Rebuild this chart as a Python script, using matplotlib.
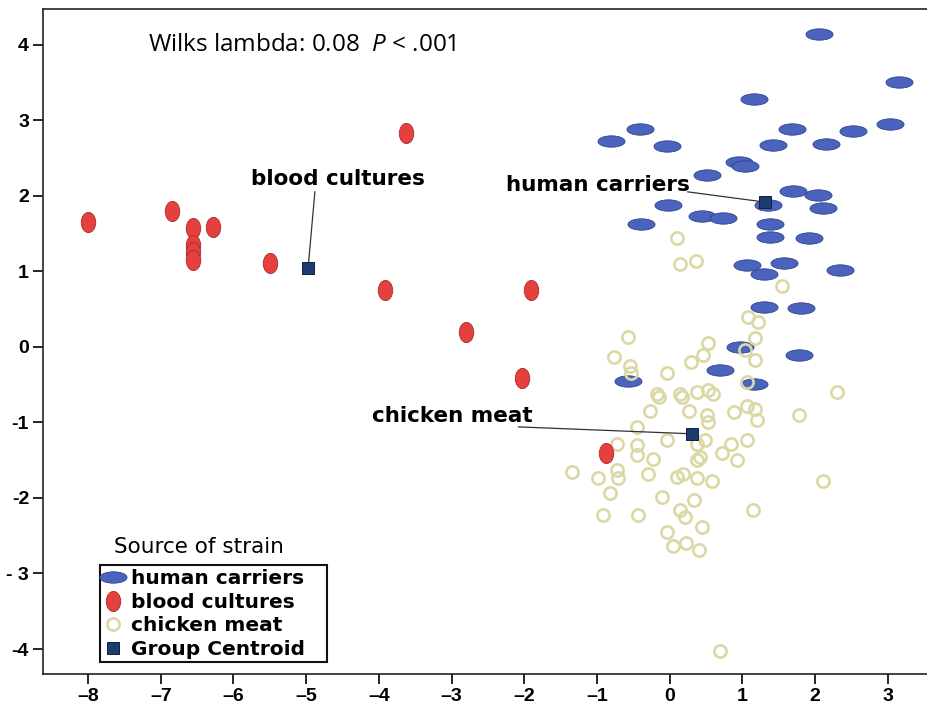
import matplotlib
matplotlib.use("Agg")
import matplotlib.pyplot as plt
from matplotlib.path import Path
from matplotlib.transforms import Affine2D
from matplotlib.lines import Line2D
from matplotlib.patches import Rectangle

# ---------------------------------------------------------
# Data
# ---------------------------------------------------------

hc_x = [2.05, 3.16, 1.16, -0.41, -0.81, -0.04, 1.68, 2.52, 3.03, 1.42, 2.15, 0.96,
        1.04, 0.51, 1.70, 2.04, -0.02, 1.35, 2.11, -0.39, 0.45, 0.73, 1.38, 1.38,
        1.91, 1.07, 1.30, 1.57, 2.35, 1.30, 1.80, 0.97, 1.78, 0.69, -0.57, 1.16]
hc_y = [4.14, 3.51, 3.28, 2.88, 2.72, 2.66, 2.88, 2.86, 2.95, 2.67, 2.68, 2.45,
        2.39, 2.27, 2.06, 2.01, 1.88, 1.88, 1.84, 1.63, 1.73, 1.70, 1.62, 1.45,
        1.44, 1.08, 0.96, 1.11, 1.01, 0.52, 0.51, 0.00, -0.11, -0.31, -0.45, -0.49]

bc_x = [-8.00, -6.84, -6.56, -6.56, -6.56, -6.56, -6.28, -5.50, -3.91, -3.63,
        -2.80, -2.03, -1.91, -0.87]
bc_y = [1.65, 1.80, 1.57, 1.35, 1.25, 1.15, 1.58, 1.11, 0.75, 2.83,
        0.20, -0.41, 0.75, -1.41]

cm_x = [0.10, 0.14, 0.36, 1.54, 1.08, 1.22, 1.17, 1.04, 1.17, 1.06,
        -0.57, -0.77, -0.54, -0.53, -0.04, 0.30, 0.46, 0.53, -0.18, 0.14,
        0.37, 0.53, 0.60, -0.15, 0.17, 2.30, 1.78, 1.06, 1.17, 0.88,
        1.20, 1.06, 0.93, 2.11, -0.27, 0.26, 0.51, 0.53, -0.45, -0.73,
        -0.45, -0.45, -0.23, -0.04, 0.37, 0.49, 0.42, 0.37, 0.72, 0.85,
        -1.35, -0.98, -0.73, -0.71, -0.30, 0.10, 0.19, 0.37, 0.58, -0.82,
        -0.11, 0.33, -0.91, -0.43, 0.14, 0.21, 0.44, -0.04, 1.15, 0.05,
        0.23, 0.40, 0.69]
cm_y = [1.44, 1.10, 1.13, 0.80, 0.40, 0.33, 0.11, -0.04, -0.18, -0.46,
        0.13, -0.13, -0.26, -0.35, -0.35, -0.20, -0.11, 0.05, -0.62, -0.62,
        -0.60, -0.57, -0.62, -0.66, -0.66, -0.60, -0.90, -0.79, -0.82, -0.86,
        -0.97, -1.24, -1.50, -1.77, -0.85, -0.85, -0.90, -0.99, -1.06, -1.28,
        -1.30, -1.43, -1.48, -1.24, -1.28, -1.24, -1.46, -1.50, -1.41, -1.28,
        -1.66, -1.73, -1.63, -1.74, -1.68, -1.72, -1.68, -1.73, -1.77, -1.94,
        -1.99, -2.03, -2.23, -2.23, -2.16, -2.25, -2.38, -2.45, -2.16, -2.63,
        -2.60, -2.69, -4.02]

centroid_x = [-4.98, 1.31, 0.31]
centroid_y = [1.04, 1.92, -1.16]

group_names = ["human carriers", "blood cultures", "chicken meat", "Group Centroid"]

# callout labels: text anchor, line start
label_names = ["blood cultures", "human carriers", "chicken meat"]
label_x = [-4.56, -0.99, -2.99]
label_y = [2.22, 2.14, -0.92]
line_x0 = [-4.88, 0.25, -2.08]
line_y0 = [2.05, 2.05, -1.06]
line_x1 = [-4.97, 1.27, 0.27]
line_y1 = [1.08, 1.92, -1.15]

x_ticks = [-8, -7, -6, -5, -4, -3, -2, -1, 0, 1, 2, 3]
x_tick_labels = ["\u20138", "\u20137", "\u20136", "\u20135", "\u20134", "\u20133",
                 "\u20132", "\u20131", "0", "1", "2", "3"]
y_ticks = [4, 3, 2, 1, 0, -1, -2, -3, -4]
y_tick_labels = ["4", "3", "2", "1", "0", "-1", "-2", "- 3", "-4"]

# ---------------------------------------------------------
# Styling
# ---------------------------------------------------------

plt.rcParams["font.family"] = ["Liberation Sans", "DejaVu Sans"]
plt.rcParams["mathtext.fontset"] = "custom"
plt.rcParams["mathtext.rm"] = "Open Sans"
plt.rcParams["mathtext.it"] = "Open Sans:italic"

circle = Path.unit_circle()
wide_ellipse = circle.transformed(Affine2D().scale(1.0, 0.42))
tall_ellipse = circle.transformed(Affine2D().scale(0.72, 1.0))

BLUE = "#4a63bd"
BLUE_EDGE = "#2f4290"
RED = "#e6403e"
RED_EDGE = "#a52a2a"
KHAKI = "#dcd8a6"
NAVY = "#1d3d70"
WIDE_FONT = "DejaVu Sans"

fig = plt.figure(figsize=(9.27, 7.17), dpi=100)
ax = fig.add_axes([43 / 927, 43 / 717, 884 / 927, 665 / 717])

ax.plot(hc_x, hc_y, linestyle="none", marker=wide_ellipse, markersize=19.5,
        markerfacecolor=BLUE, markeredgecolor=BLUE_EDGE, markeredgewidth=0.6, zorder=3)
ax.plot(cm_x, cm_y, linestyle="none", marker="o", markersize=8.8,
        markerfacecolor="none", markeredgecolor=KHAKI, markeredgewidth=1.9, zorder=4)
ax.plot(bc_x, bc_y, linestyle="none", marker=tall_ellipse, markersize=14.5,
        markerfacecolor=RED, markeredgecolor=RED_EDGE, markeredgewidth=0.6, zorder=5)

for i in range(len(label_names)):
    ax.plot([line_x0[i], line_x1[i]], [line_y0[i], line_y1[i]],
            color="#333333", linewidth=0.9, zorder=6)
    ax.text(label_x[i], label_y[i], label_names[i], ha="center", va="center",
            fontsize=15.5, fontweight="bold", family=WIDE_FONT, zorder=7)

ax.plot(centroid_x, centroid_y, linestyle="none", marker="s", markersize=8,
        markerfacecolor=NAVY, markeredgecolor="#0e2040", markeredgewidth=0.7, zorder=8)

ax.text(-7.17, 3.99, r"Wilks lambda: 0.08  $\it{P}$ < .001", ha="left", va="center",
        fontsize=17.5, family="Open Sans")

ax.set_xlim(-8.62, 3.54)
ax.set_ylim(-4.33, 4.47)

ax.set_xticks(x_ticks, x_tick_labels)
ax.set_yticks(y_ticks, y_tick_labels)
ax.tick_params(direction="out", length=7, width=1.2, labelsize=14, pad=3)
for lab in ax.get_xticklabels() + ax.get_yticklabels():
    lab.set_fontweight("bold")

ax.spines["right"].set_visible(False)
for s in ["left", "bottom", "top"]:
    ax.spines[s].set_linewidth(1.2)
    ax.spines[s].set_color("#222222")

# ---------------------------------------------------------
# Legend: own box (wider on the right) and title above it
# ---------------------------------------------------------

handles = [
    Line2D([], [], linestyle="none", marker=wide_ellipse, markersize=19.5,
           markerfacecolor=BLUE, markeredgecolor=BLUE_EDGE, markeredgewidth=0.6),
    Line2D([], [], linestyle="none", marker=tall_ellipse, markersize=14.5,
           markerfacecolor=RED, markeredgecolor=RED_EDGE, markeredgewidth=0.6),
    Line2D([], [], linestyle="none", marker="o", markersize=8.8,
           markerfacecolor="none", markeredgecolor=KHAKI, markeredgewidth=1.9),
    Line2D([], [], linestyle="none", marker="s", markersize=8,
           markerfacecolor=NAVY, markeredgecolor="#0e2040", markeredgewidth=0.7),
]
box = Rectangle((57 / 884, 12 / 665), 227 / 884, 97 / 665, transform=ax.transAxes,
                facecolor="white", edgecolor="#111111", linewidth=1.5, zorder=9,
                clip_on=False)
ax.add_patch(box)
leg = ax.legend(handles, group_names, loc="center left",
                bbox_to_anchor=(57 / 884, 60 / 665), borderaxespad=0,
                prop={"weight": "bold", "size": 14.5, "family": WIDE_FONT},
                frameon=False, borderpad=0.1, labelspacing=0.24, handlelength=1.1,
                handletextpad=0.35)
leg.set_zorder(10)

ax.text((199 - 43) / 884, (674 - 547) / 665, "Source of strain", transform=ax.transAxes,
        ha="center", va="center", fontsize=15.5, family=WIDE_FONT)

fig.savefig("out.png", dpi=100)
